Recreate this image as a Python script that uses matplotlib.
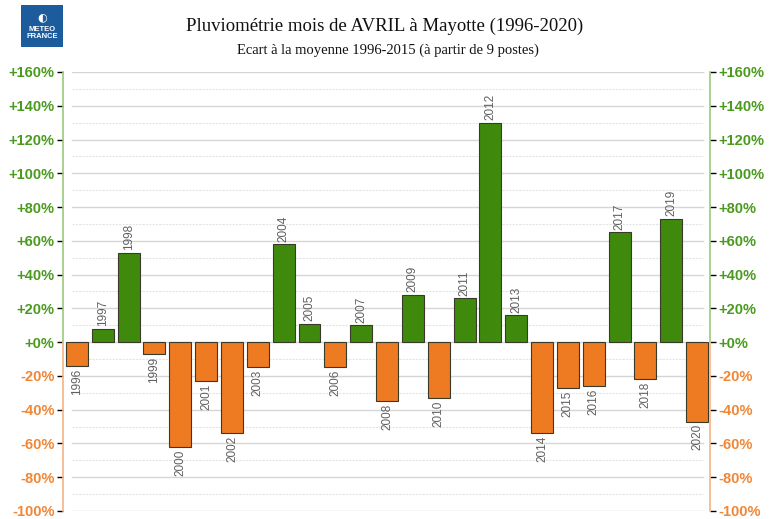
import numpy as np
import matplotlib
matplotlib.use("Agg")
import matplotlib.pyplot as plt
from matplotlib.patches import Rectangle

# Ecart a la moyenne (%) - avril, Mayotte
years = [str(y) for y in range(1996, 2021)]
ecart = [-14, 8, 53, -7, -62, -23, -54, -15, 58, 11, -15, 10, -35,
         28, -33, 26, 130, 16, -54, -27, -26, 65, -22, 73, -47]
yticks = list(range(-100, 161, 20))
ytick_labels = ["+%d%%" % v if v >= 0 else "%d%%" % v for v in yticks]

green = "#3f8a0c"
orange = "#ee7a22"
green_txt = "#4a9a1e"
orange_txt = "#f08636"
green_axis = "#9cc97e"
orange_axis = "#f6b486"

fig = plt.figure(figsize=(7.7, 5.19), dpi=100)
W, H = 770, 519
# axes between the two spines (pixels 63 -> 710, y 72 -> 511)
ax = fig.add_axes([63 / W, 1 - 511 / H, (710 - 63) / W, (511 - 72) / H])

x = np.arange(len(years))
cols = [green if v >= 0 else orange for v in ecart]
ax.bar(x, ecart, width=0.85, color=cols, edgecolor="#3a3a2a", linewidth=0.8, zorder=3)

# year labels above / below bars
for xi, v, yr in zip(x, ecart, years):
    if v >= 0:
        ax.text(xi, v + 1.5, yr, rotation=90, ha="center", va="bottom",
                fontsize=8.5, color="#606060", family="Liberation Sans", zorder=4)
    else:
        ax.text(xi, v - 1.5, yr, rotation=90, ha="center", va="top",
                fontsize=8.5, color="#606060", family="Liberation Sans", zorder=4)

ax.set_xlim(-0.54, 24.5)
ax.set_ylim(-100, 160)
ax.set_xticks([])

# grid lines
x0, x1 = 9 / 647, 640 / 647
for v in range(-100, 161, 10):
    if v % 20 == 0:
        ax.axhline(v, x0, x1, color="#d6d6d6", lw=1.0, zorder=1)
    else:
        ax.axhline(v, x0, x1, color="#e4e4e4", lw=0.8, ls=(0, (2, 1)), zorder=1)

for s in ax.spines.values():
    s.set_visible(False)

ax2 = ax.twinx()
ax2.set_ylim(ax.get_ylim())
for s in ax2.spines.values():
    s.set_visible(False)

for a, side, xpos in [(ax, "left", 0), (ax2, "right", 1)]:
    a.set_yticks(yticks)
    a.set_yticklabels(ytick_labels, family="Liberation Sans", fontweight="bold", fontsize=10.5)
    a.tick_params(axis="y", length=4, width=1, pad=2)
    for lab, v, tk in zip(a.get_yticklabels(), yticks, a.yaxis.get_major_ticks()):
        c = green_txt if v >= 0 else orange_txt
        lab.set_color(c)
        tk.tick1line.set_color(green_axis if v >= 0 else orange_axis)
        tk.tick2line.set_color(green_axis if v >= 0 else orange_axis)
    tr = a.get_yaxis_transform()
    a.plot([xpos, xpos], [0, 160], color=green_axis, lw=1.2, transform=tr, clip_on=False)
    a.plot([xpos, xpos], [-100, 0], color=orange_axis, lw=1.2, transform=tr, clip_on=False)

# titles
fig.text(385 / W, 1 - 26 / H, "Pluviométrie mois de AVRIL à Mayotte (1996-2020)",
         ha="center", va="center", family="Liberation Serif", fontsize=13.5, color="#111111")
fig.text(388 / W, 1 - 50 / H, "Ecart à la moyenne 1996-2015 (à partir de 9 postes)",
         ha="center", va="center", family="Liberation Serif", fontsize=10.5, color="#111111")

# logo
logo = Rectangle((21 / W, 1 - 47 / H), 42 / W, 42 / H, transform=fig.transFigure,
                 facecolor="#1c5b9c", edgecolor="none")
fig.patches.append(logo)
fig.text(42 / W, 1 - 17 / H, "◐", ha="center", va="center", color="white", fontsize=8,
         family="DejaVu Sans")
fig.text(42 / W, 1 - 33 / H, "METEO\nFRANCE", ha="center", va="center", color="white",
         fontsize=5.5, fontweight="bold", family="Liberation Sans", linespacing=1.0)

fig.savefig("out.png", dpi=100)
